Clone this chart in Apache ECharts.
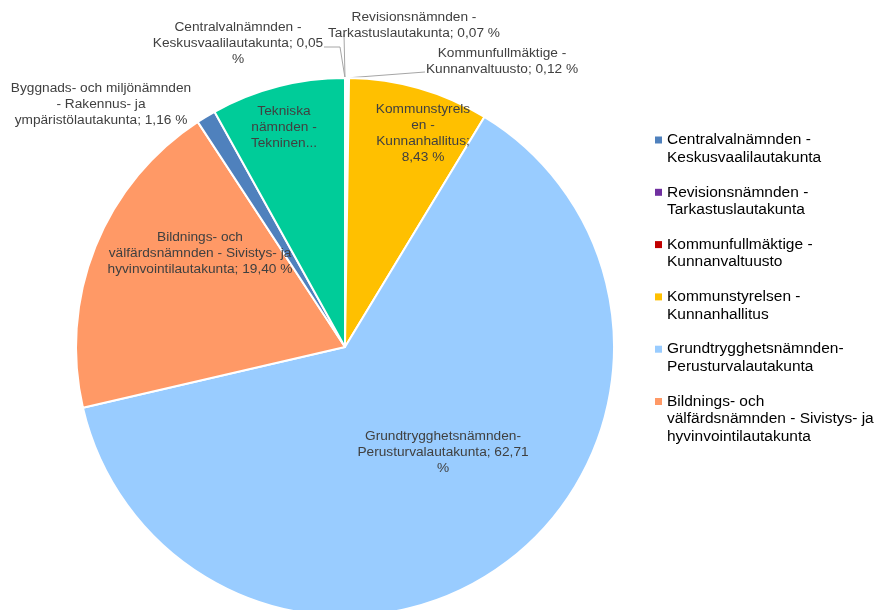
<!DOCTYPE html>
<html>
<head>
<meta charset="utf-8">
<script src="https://cdn.jsdelivr.net/npm/echarts@6/dist/echarts.min.js"></script>
<style>
html, body { margin: 0; padding: 0; background: #fff; }
#main { width: 878px; height: 610px; }
</style>
</head>
<body>
<div id="main"></div>
<script>
// data
var names = [
	'Centralvalnämnden - Keskusvaalilautakunta',
	'Revisionsnämnden - Tarkastuslautakunta',
	'Kommunfullmäktige - Kunnanvaltuusto',
	'Kommunstyrelsen - Kunnanhallitus',
	'Grundtrygghetsnämnden-Perusturvalautakunta',
	'Bildnings- och välfärdsnämnden - Sivistys- ja hyvinvointilautakunta',
	'Byggnads- och miljönämnden - Rakennus- ja ympäristölautakunta',
	'Tekniska nämnden - Tekninen lautakunta'
];
var values = [0.05, 0.07, 0.12, 8.43, 62.71, 19.40, 1.16, 8.06];
var labelTexts = [
	'Centralvalnämnden -\nKeskusvaalilautakunta; 0,05\n%',
	'Revisionsnämnden -\nTarkastuslautakunta; 0,07 %',
	'Kommunfullmäktige -\nKunnanvaltuusto; 0,12 %',
	'Kommunstyrels\nen -\nKunnanhallitus;\n8,43 %',
	'Grundtrygghetsnämnden-\nPerusturvalautakunta; 62,71\n%',
	'Bildnings- och\nvälfärdsnämnden - Sivistys- ja\nhyvinvointilautakunta; 19,40 %',
	'Byggnads- och miljönämnden\n- Rakennus- ja\nympäristölautakunta; 1,16 %',
	'Tekniska\nnämnden -\nTekninen...'
];
// legend only shows the first six, the rest is cut off in the original
var legendNames = names.slice(0, 6);
var legendTexts = [
	'Centralvalnämnden -\nKeskusvaalilautakunta',
	'Revisionsnämnden -\nTarkastuslautakunta',
	'Kommunfullmäktige -\nKunnanvaltuusto',
	'Kommunstyrelsen -\nKunnanhallitus',
	'Grundtrygghetsnämnden-\nPerusturvalautakunta',
	'Bildnings- och\nvälfärdsnämnden - Sivistys- ja\nhyvinvointilautakunta'
];

// styles
var colors = ['#4F81BD', '#7030A0', '#C00000', '#FFC000', '#99CCFF', '#FF9966', '#4F81BD', '#00CC99'];
var outside = [true, true, true, false, false, false, true, false];
var labelPos = [[238, 43], [414, 25], [502, 61], [423, 133], [443, 452], [200, 253], [101, 104], [284, 127]];
var linePts = [
	[[345, 78], [340, 47], [324, 47]],
	[[345, 78], [344, 34]],
	[[346, 78], [425, 72]],
	null, null, null, null, null
];
var LH = 17.5;
var ICON_H = 70;
var FIRST_LINE = ICON_H / 2 - LH / 2;

var pieData = names.map(function (n, i) {
	return {
		name: n,
		value: values[i],
		itemStyle: { color: colors[i] },
		label: { position: outside[i] ? 'outside' : 'inside' },
		labelLine: { show: !!linePts[i] }
	};
});

// marker sits on the first text line: a tall invisible box with the square placed inside
var legendData = legendNames.map(function (n) {
	return {
		name: n,
		icon: 'path://M0,0M7,' + ICON_H + 'M0,' + (FIRST_LINE - 3.5) + 'h7v7h-7z'
	};
});

var option = {
	animation: false,
	backgroundColor: '#fff',
	legend: {
		orient: 'vertical',
		left: 655,
		top: 140 - FIRST_LINE,
		padding: 0,
		itemGap: 52.3 - ICON_H,
		itemWidth: 7,
		itemHeight: ICON_H,
		itemStyle: { borderWidth: 0 },
		data: legendData,
		formatter: function (name) {
			var t = legendTexts[legendNames.indexOf(name)];
			// three-line entry gets a blank lead line so its first line stays level with the marker
			return t.split('\n').length > 2 ? '\u00a0\n' + t : t;
		},
		textStyle: {
			fontFamily: 'Liberation Sans',
			fontSize: 15.5,
			lineHeight: LH,
			color: '#000'
		}
	},
	series: [
		{
			type: 'pie',
			center: [345, 347],
			radius: 269,
			startAngle: 90,
			clockwise: true,
			avoidLabelOverlap: false,
			itemStyle: { borderColor: '#fff', borderWidth: 2 },
			label: {
				show: true,
				formatter: function (p) { return labelTexts[p.dataIndex]; },
				fontFamily: 'Liberation Sans',
				fontSize: 13.7,
				lineHeight: 16,
				color: '#404040',
				align: 'center'
			},
			labelLine: {
				lineStyle: { color: '#A6A6A6', width: 1 }
			},
			labelLayout: function (p) {
				var i = p.dataIndex;
				var out = { x: labelPos[i][0], y: labelPos[i][1], align: 'center', verticalAlign: 'middle' };
				if (linePts[i]) out.labelLinePoints = linePts[i];
				return out;
			},
			emphasis: { disabled: true },
			data: pieData
		}
	]
};

var myChart = echarts.init(document.getElementById('main'));
myChart.setOption(option);
</script>
</body>
</html>
